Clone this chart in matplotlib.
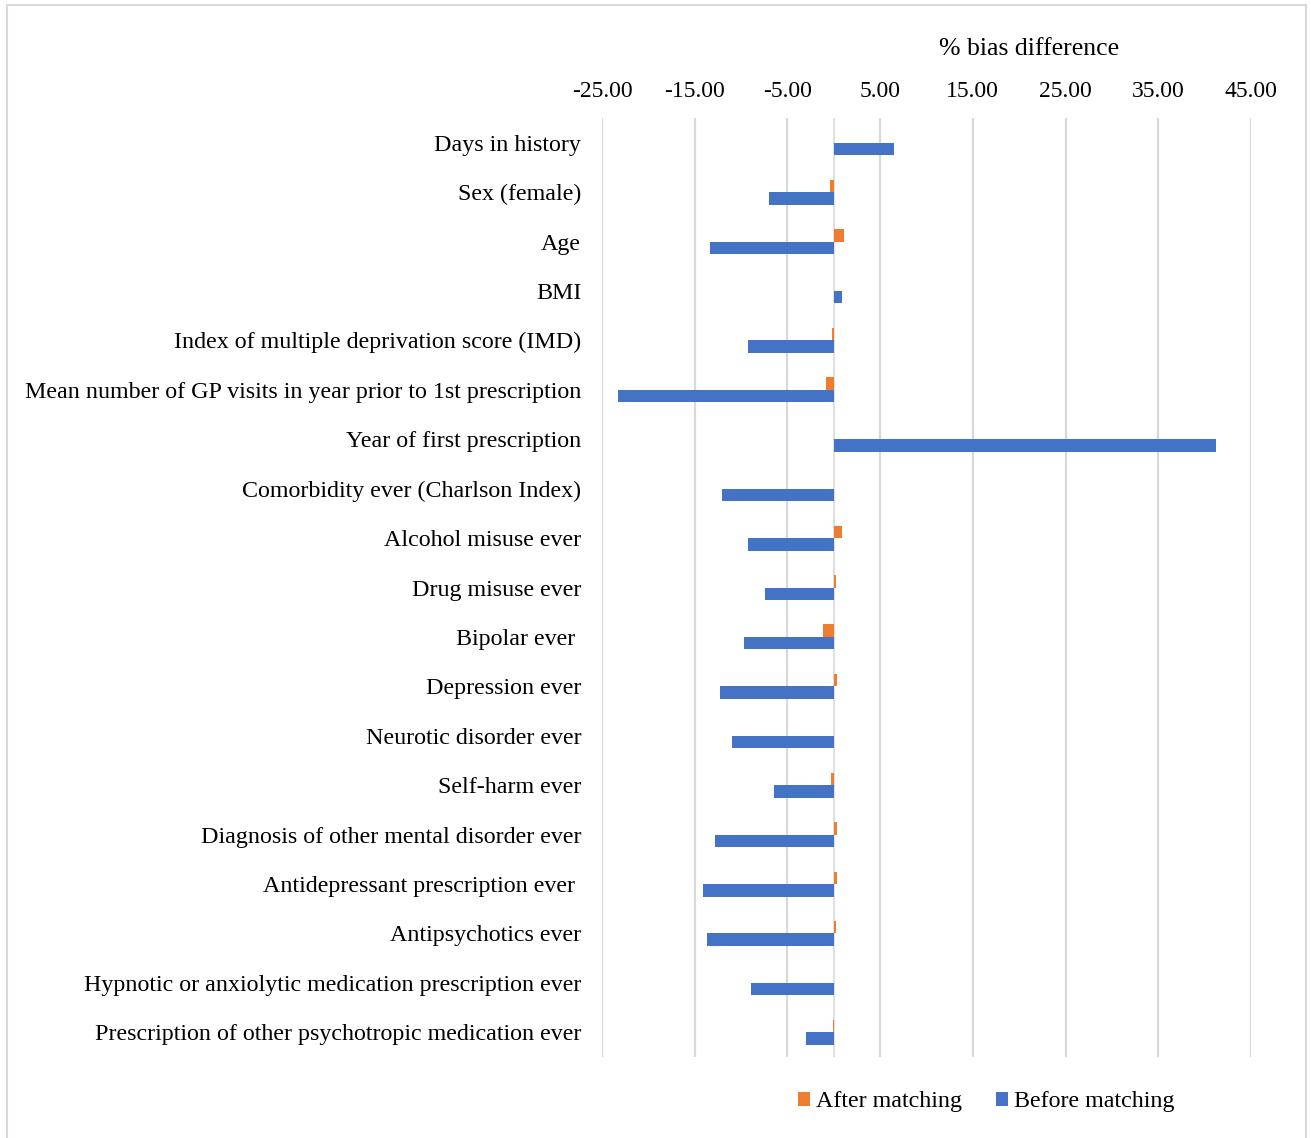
import matplotlib.pyplot as plt
import numpy as np
from matplotlib.patches import Rectangle

# covariates, top to bottom
labels = [
    "Days in history",
    "Sex (female)",
    "Age",
    "BMI",
    "Index of multiple deprivation score (IMD)",
    "Mean number of GP visits in year prior to 1st prescription",
    "Year of first prescription",
    "Comorbidity ever (Charlson Index)",
    "Alcohol misuse ever",
    "Drug misuse ever",
    "Bipolar ever ",
    "Depression ever",
    "Neurotic disorder ever",
    "Self-harm ever",
    "Diagnosis of other mental disorder ever",
    "Antidepressant prescription ever ",
    "Antipsychotics ever",
    "Hypnotic or anxiolytic medication prescription ever",
    "Prescription of other psychotropic medication ever",
]

# % bias difference
before = [6.5, -7.0, -13.3, 0.9, -9.2, -23.3, 41.2, -12.1, -9.2, -7.4,
          -9.7, -12.3, -11.0, -6.4, -12.8, -14.1, -13.7, -8.9, -3.0]
after = [0.05, -0.4, 1.1, 0.05, -0.2, -0.85, 0.05, 0.05, 0.9, 0.2,
         -1.2, 0.3, 0.05, -0.3, 0.3, 0.3, 0.2, 0.05, -0.05]

xticks = [-25, -15, -5, 5, 15, 25, 35, 45]

plt.rcParams['font.family'] = ['Liberation Serif', 'DejaVu Serif']

orange = '#ED7D31'
blue = '#4472C4'
grid = '#d9d9d9'

fig = plt.figure(figsize=(13.11, 11.38), dpi=100)
ax = fig.add_axes([602 / 1311, 1 - 1057 / 1138, 649 / 1311, 939 / 1138])

y = np.arange(len(labels))
h = 0.253
ax.barh(y - h / 2, after, height=h, color=orange, label='After matching', zorder=3)
ax.barh(y + h / 2, before, height=h, color=blue, label='Before matching', zorder=3)

ax.set_xlim(-25, 45)
ax.set_ylim(len(labels) - 0.5, -0.5)
ax.set_xticks(xticks)
ax.set_xticklabels([f'{v:.2f}' for v in xticks], fontsize=17)
ax.xaxis.tick_top()
ax.tick_params(axis='x', length=0, pad=11.5)
ax.set_yticks(y)
ax.set_yticklabels(labels, fontsize=17.3)
ax.tick_params(axis='y', length=0, pad=15)

ax.grid(axis='x', color=grid, linewidth=1.6, zorder=0)
ax.axvline(0, color=grid, linewidth=1.2, zorder=1)
for s in ax.spines.values():
    s.set_visible(False)

fig.text(1029 / 1311, 1 - 49 / 1138, '% bias difference', fontsize=18.5,
         ha='center', va='center')

fig.legend(loc='center', bbox_to_anchor=(986 / 1311, 1 - 1102 / 1138), ncol=2,
           frameon=False, fontsize=17.3, handlelength=0.5, handleheight=0.5,
           handletextpad=0.25, columnspacing=1.4)

# outer chart border
fig.patches.append(Rectangle((7 / 1311, -0.05), 1299 / 1311, 1.05 - 5 / 1138,
                             transform=fig.transFigure, fill=False,
                             edgecolor=grid, linewidth=1.5))

fig.savefig('out.png', dpi=100, facecolor='white')
